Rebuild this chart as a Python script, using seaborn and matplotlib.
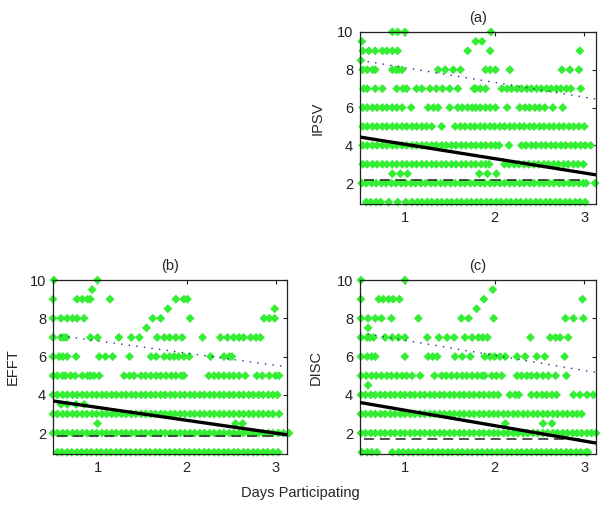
import matplotlib
matplotlib.use("Agg")
import matplotlib.pyplot as plt
import seaborn as sns
import pandas as pd

# ---------------- data ----------------
# Panel (a) IPSV: x positions (days participating) for each score level
A_10 = [0.86, 0.92, 1.00, 1.96]
A_9_5 = [0.52, 1.79, 1.86]
A_9 = [0.53, 0.60, 0.67, 0.75, 0.80, 0.86, 0.92, 1.70, 1.95, 2.95]
A_8_5 = [0.51]
A_8 = [0.53, 0.58, 0.64, 0.67, 0.86, 0.90, 0.93, 0.97, 1.37, 1.45, 1.54, 1.62,
       1.90, 1.95, 2.01, 2.17, 2.75, 2.84, 2.94]
A_7 = [0.54, 0.58, 0.67, 0.75, 0.91, 0.98, 1.02, 1.13, 1.19, 1.28, 1.35, 1.42,
       1.50, 1.59, 1.77, 1.79, 1.84, 1.90, 2.08, 2.14, 2.19, 2.25, 2.30, 2.36,
       2.41, 2.47, 2.52, 2.58, 2.63, 2.69, 2.74, 2.80, 2.85, 2.96]
A_6 = [0.53, 0.58, 0.64, 0.69, 0.75, 0.80, 0.86, 0.91, 0.97, 1.07, 1.26, 1.32,
       1.37, 1.50, 1.59, 1.64, 1.70, 1.75, 1.79, 1.84, 1.90, 1.95, 2.01, 2.14,
       2.28, 2.34, 2.39, 2.45, 2.50, 2.56, 2.65, 2.76]
A_5 = [0.53, 0.58, 0.64, 0.69, 0.75, 0.80, 0.86, 0.91, 0.97, 1.02, 1.08, 1.13,
       1.19, 1.24, 1.30, 1.41, 1.56, 1.62, 1.67, 1.73, 1.78, 1.84, 1.89, 1.95,
       2.00, 2.06, 2.11, 2.17, 2.22, 2.28, 2.33, 2.39, 2.44, 2.50, 2.55, 2.61,
       2.66, 2.72, 2.77, 2.83, 2.88, 2.94, 3.00]
A_4 = [0.53, 0.58, 0.64, 0.69, 0.75, 0.80, 0.86, 0.91, 0.97, 1.02, 1.08, 1.13,
       1.19, 1.24, 1.30, 1.35, 1.41, 1.46, 1.52, 1.57, 1.63, 1.68, 1.74, 1.79,
       1.85, 1.90, 1.96, 2.01, 2.05, 2.16, 2.30, 2.35, 2.41, 2.46, 2.52, 2.57,
       2.63, 2.68, 2.74, 2.79, 2.85, 2.90, 2.96, 3.01, 3.07]
A_3 = [0.53, 0.58, 0.64, 0.69, 0.75, 0.80, 0.86, 0.91, 0.97, 1.02, 1.08, 1.13,
       1.19, 1.24, 1.30, 1.35, 1.41, 1.46, 1.52, 1.57, 1.63, 1.68, 1.74, 1.79,
       1.85, 1.90, 1.94, 2.11, 2.16, 2.22, 2.27, 2.33, 2.38, 2.44, 2.49, 2.55,
       2.60, 2.66, 2.71, 2.77, 2.82, 2.88, 2.93, 2.99]
A_2_5 = [0.86, 0.95, 1.03, 1.83, 1.92, 2.02]
A_2 = [0.52, 0.57, 0.63, 0.68, 0.74, 0.79, 0.85, 0.90, 0.96, 1.01, 1.07, 1.12,
       1.18, 1.23, 1.29, 1.34, 1.40, 1.45, 1.51, 1.56, 1.62, 1.67, 1.73, 1.78,
       1.84, 1.89, 1.95, 2.00, 2.06, 2.11, 2.17, 2.22, 2.28, 2.33, 2.39, 2.44,
       2.50, 2.55, 2.61, 2.66, 2.72, 2.77, 2.83, 2.88, 2.94, 2.99, 3.02, 3.12]
A_1 = [0.57, 0.62, 0.68, 0.73, 0.82, 0.92, 1.01, 1.08, 1.14, 1.19, 1.25, 1.30,
       1.36, 1.41, 1.47, 1.52, 1.58, 1.63, 1.69, 1.74, 1.80, 1.85, 1.91, 1.96,
       2.02, 2.07, 2.13, 2.18, 2.24, 2.29, 2.35, 2.40, 2.46, 2.51, 2.57, 2.62,
       2.68, 2.73, 2.79, 2.84, 2.90, 2.95, 3.01]

# Panel (b) EFFT
B_10 = [0.51, 1.00]
B_9_5 = [0.94]
B_9 = [0.50, 0.77, 0.83, 0.89, 0.92, 1.14, 1.88, 1.97, 2.01]
B_8_5 = [1.79, 2.99]
B_8 = [0.50, 0.59, 0.66, 0.72, 0.77, 0.85, 1.62, 1.71, 2.04, 2.87, 2.93, 2.99]
B_7_5 = [1.55]
B_7 = [0.50, 0.59, 0.62, 0.65, 0.92, 1.00, 1.24, 1.38, 1.47, 1.67, 1.75, 1.81,
       1.88, 1.95, 2.18, 2.38, 2.46, 2.53, 2.59, 2.64, 2.72, 2.78, 2.83]
B_6 = [0.50, 0.57, 0.61, 0.66, 0.76, 1.02, 1.09, 1.17, 1.36, 1.60, 1.66, 1.75,
       1.81, 1.86, 1.91, 1.97, 2.03, 2.27, 2.42, 2.48, 2.51]
B_5 = [0.50, 0.55, 0.61, 0.64, 0.70, 0.75, 0.83, 0.89, 0.92, 0.96, 1.02, 1.30,
       1.36, 1.41, 1.49, 1.54, 1.60, 1.66, 1.71, 1.77, 1.83, 1.88, 1.94, 1.97,
       2.25, 2.31, 2.36, 2.42, 2.48, 2.53, 2.59, 2.66, 2.79, 2.85, 2.93, 3.00, 3.04]
B_4 = [0.50, 0.55, 0.61, 0.66, 0.72, 0.77, 0.83, 0.88, 0.94, 0.99, 1.05, 1.10,
       1.16, 1.21, 1.27, 1.32, 1.38, 1.43, 1.49, 1.54, 1.60, 1.65, 1.71, 1.76,
       1.82, 1.87, 1.93, 1.98, 2.04, 2.09, 2.15, 2.20, 2.26, 2.31, 2.37, 2.42,
       2.48, 2.53, 2.59, 2.64, 2.70, 2.75, 2.81, 2.86, 2.92, 2.97, 3.02]
B_3_5 = [0.59, 0.66, 0.76, 0.85]
B_3 = [0.50, 0.55, 0.61, 0.66, 0.72, 0.77, 0.83, 0.88, 0.94, 0.99, 1.05, 1.10,
       1.16, 1.21, 1.27, 1.32, 1.38, 1.43, 1.49, 1.54, 1.60, 1.65, 1.71, 1.76,
       1.82, 1.87, 1.93, 1.98, 2.04, 2.09, 2.15, 2.20, 2.26, 2.31, 2.37, 2.42,
       2.48, 2.53, 2.59, 2.64, 2.70, 2.75, 2.81, 2.86, 2.92, 2.97, 3.04]
B_2_5 = [1.00, 2.55, 2.63]
B_2 = [0.50, 0.55, 0.61, 0.66, 0.72, 0.77, 0.83, 0.88, 0.94, 0.99, 1.05, 1.10,
       1.16, 1.21, 1.27, 1.32, 1.38, 1.43, 1.49, 1.54, 1.60, 1.65, 1.71, 1.76,
       1.82, 1.87, 1.93, 1.98, 2.04, 2.09, 2.15, 2.20, 2.26, 2.31, 2.37, 2.42,
       2.48, 2.53, 2.59, 2.64, 2.70, 2.75, 2.81, 2.86, 2.92, 2.97, 3.03, 3.09, 3.15]
B_1 = [0.55, 0.60, 0.66, 0.71, 0.77, 0.82, 0.88, 0.93, 0.99, 1.04, 1.10, 1.15,
       1.21, 1.26, 1.32, 1.37, 1.43, 1.48, 1.54, 1.59, 1.65, 1.70, 1.76, 1.81,
       1.87, 1.92, 1.98, 2.03, 2.09, 2.14, 2.20, 2.25, 2.31, 2.36, 2.42, 2.47,
       2.53, 2.58, 2.64, 2.69, 2.75, 2.80, 2.86, 2.91, 2.97, 3.03]

# Panel (c) DISC
C_10 = [0.51, 1.00]
C_9_5 = [1.98]
C_9 = [0.51, 0.71, 0.76, 0.82, 0.87, 0.94, 1.88, 2.98]
C_8_5 = [1.80]
C_8 = [0.51, 0.59, 0.67, 0.74, 0.85, 1.15, 1.63, 1.71, 1.99, 2.79, 2.88, 2.99]
C_7_5 = [0.59]
C_7 = [0.51, 0.58, 0.61, 0.65, 0.78, 0.86, 0.93, 1.00, 1.25, 1.38, 1.47, 1.55,
       1.67, 1.75, 1.82, 1.87, 1.92, 2.40, 2.62, 2.68, 2.73, 2.82]
C_6 = [0.51, 0.58, 0.63, 0.67, 1.00, 1.26, 1.31, 1.36, 1.56, 1.64, 1.73, 1.89,
       1.95, 2.00, 2.06, 2.12, 2.25, 2.34, 2.47, 2.56, 2.78]
C_5 = [0.51, 0.57, 0.63, 0.68, 0.74, 0.80, 0.85, 0.91, 0.97, 1.02, 1.08, 1.17,
       1.33, 1.41, 1.46, 1.52, 1.58, 1.64, 1.69, 1.75, 1.81, 1.86, 1.89, 1.97,
       2.02, 2.08, 2.25, 2.30, 2.36, 2.41, 2.47, 2.54, 2.60, 2.68, 2.80]
C_4_5 = [0.59]
C_4 = [0.51, 0.56, 0.62, 0.67, 0.73, 0.78, 0.84, 0.89, 0.95, 1.00, 1.06, 1.11,
       1.17, 1.22, 1.28, 1.33, 1.39, 1.44, 1.50, 1.55, 1.61, 1.66, 1.72, 1.77,
       1.83, 1.88, 1.94, 1.99, 2.04, 2.17, 2.23, 2.27, 2.41, 2.47, 2.53, 2.58,
       2.64, 2.69, 2.88, 2.95, 3.03, 3.10]
C_3 = [0.51, 0.56, 0.62, 0.67, 0.73, 0.78, 0.84, 0.89, 0.95, 1.00, 1.06, 1.11,
       1.17, 1.22, 1.28, 1.33, 1.39, 1.44, 1.50, 1.55, 1.61, 1.66, 1.72, 1.77,
       1.83, 1.88, 1.94, 1.99, 2.04, 2.10, 2.15, 2.21, 2.26, 2.32, 2.37, 2.43,
       2.48, 2.54, 2.59, 2.65, 2.70, 2.76, 2.81, 2.87, 2.92, 2.97]
C_2_5 = [2.12, 2.54, 2.64]
C_2 = [0.51, 0.56, 0.62, 0.67, 0.73, 0.78, 0.84, 0.89, 0.95, 1.00, 1.06, 1.11,
       1.17, 1.22, 1.28, 1.33, 1.39, 1.44, 1.50, 1.55, 1.61, 1.66, 1.72, 1.77,
       1.83, 1.88, 1.94, 1.99, 2.04, 2.10, 2.15, 2.21, 2.26, 2.32, 2.37, 2.43,
       2.48, 2.54, 2.59, 2.65, 2.70, 2.76, 2.81, 2.87, 2.92, 2.97, 3.03, 3.08, 3.13]
C_1 = [0.52, 0.58, 0.63, 0.69, 0.86, 0.93, 0.98, 1.04, 1.09, 1.15, 1.20, 1.26,
       1.31, 1.37, 1.42, 1.48, 1.53, 1.59, 1.64, 1.70, 1.75, 1.81, 1.86, 1.92,
       1.97, 2.03, 2.08, 2.14, 2.19, 2.25, 2.30, 2.36, 2.41, 2.47, 2.52, 2.58,
       2.63, 2.69, 2.74, 2.80, 2.85, 2.91, 2.96, 3.02, 3.04]

# Fitted lines: values at the left / right x limits
LINE_X = [0.50, 3.13]
A_SOLID = [4.44, 2.44]
A_DOTTED = [8.50, 6.45]
B_SOLID = [3.68, 1.91]
B_DOTTED = [7.14, 5.46]
C_SOLID = [3.60, 1.48]
C_DOTTED = [7.25, 5.17]
DASH_X = [0.55, 3.00]
A_DASH = 2.17
B_DASH = 1.83
C_DASH = 1.69

TITLES = ["(a)", "(b)", "(c)"]
YLABELS = ["IPSV", "EFFT", "DISC"]
XLABEL = "Days Participating"
XTICKS = [1, 2, 3]
YTICKS = [2, 4, 6, 8, 10]


def build(levels):
    xs, ys = [], []
    for y, row in levels:
        xs.extend(row)
        ys.extend([y] * len(row))
    return pd.DataFrame({"days": xs, "score": ys})


df_a = build([(10, A_10), (9.5, A_9_5), (9, A_9), (8.5, A_8_5), (8, A_8), (7, A_7),
              (6, A_6), (5, A_5), (4, A_4), (3, A_3), (2.5, A_2_5), (2, A_2), (1, A_1)])
df_b = build([(10, B_10), (9.5, B_9_5), (9, B_9), (8.5, B_8_5), (8, B_8), (7.5, B_7_5),
              (7, B_7), (6, B_6), (5, B_5), (4, B_4), (3.5, B_3_5), (3, B_3),
              (2.5, B_2_5), (2, B_2), (1, B_1)])
df_c = build([(10, C_10), (9.5, C_9_5), (9, C_9), (8.5, C_8_5), (8, C_8), (7.5, C_7_5),
              (7, C_7), (6, C_6), (5, C_5), (4.5, C_4_5), (4, C_4), (3, C_3),
              (2.5, C_2_5), (2, C_2), (1, C_1)])

# ---------------- style ----------------
sns.set_style("ticks")
plt.rcParams["font.family"] = ["Liberation Sans", "DejaVu Sans"]
plt.rcParams["xtick.direction"] = "in"
plt.rcParams["ytick.direction"] = "in"

fig = plt.figure(figsize=(6.02, 5.12), dpi=100)
positions = [[0.598, 0.6016, 0.392, 0.336],
             [0.088, 0.113, 0.389, 0.340],
             [0.598, 0.113, 0.392, 0.340]]
frames = [df_a, df_b, df_c]
solids = [A_SOLID, B_SOLID, C_SOLID]
dotteds = [A_DOTTED, B_DOTTED, C_DOTTED]
dashes = [A_DASH, B_DASH, C_DASH]
label_x = [-0.148, -0.141, -0.157]

GREEN = "#33EE33"
FS = 10.5

for i in range(3):
    ax = fig.add_axes(positions[i])
    sns.scatterplot(data=frames[i], x="days", y="score", ax=ax, marker="D",
                    s=21, color=GREEN, edgecolor="none", linewidth=0,
                    clip_on=False, zorder=2)
    ax.plot(DASH_X, [dashes[i], dashes[i]], color="#333333", lw=1.2,
            linestyle=(0, (6, 3.5)), zorder=3)
    ax.plot(LINE_X, dotteds[i], color="#2b2b8a", lw=1.0,
            linestyle=(0, (1, 4.5)), zorder=3)
    ax.plot(LINE_X, solids[i], color="black", lw=2.4, zorder=4,
            solid_capstyle="butt")
    ax.set_xlim(0.5, 3.13)
    ax.set_ylim(0.9, 10)
    ax.set_xticks(XTICKS)
    ax.set_yticks(YTICKS)
    ax.tick_params(axis="both", which="both", labelsize=FS, length=3, width=0.8,
                   top=True, right=True, pad=5, colors="#222222")
    for sp in ax.spines.values():
        sp.set_visible(True)
        sp.set_linewidth(0.9)
        sp.set_color("#222222")
    ax.set_title(TITLES[i], fontsize=FS, pad=7)
    ax.set_xlabel("")
    ax.set_ylabel(YLABELS[i], fontsize=FS)
    ax.yaxis.set_label_coords(label_x[i], 0.5)

fig.text(300 / 602, 1 - 493 / 512, XLABEL, ha="center", va="center", fontsize=FS)

fig.savefig("out.png", dpi=100)
